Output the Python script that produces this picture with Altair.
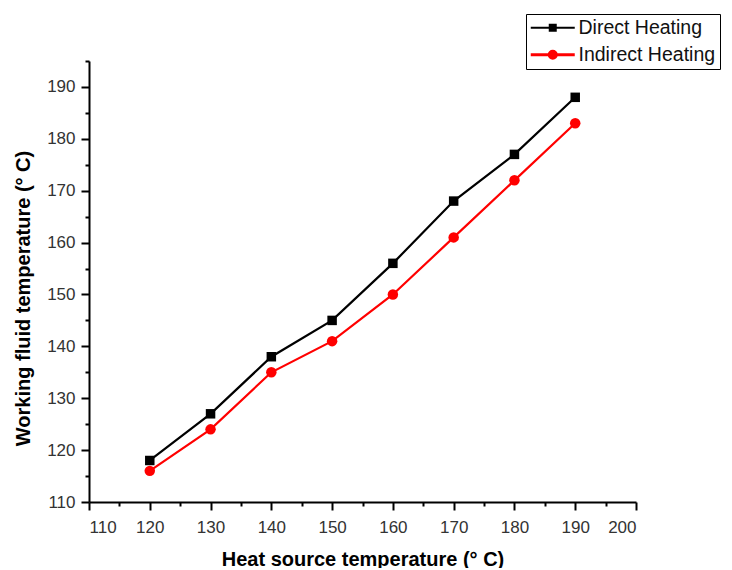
import altair as alt
import pandas as pd

heat_source = [120, 130, 140, 150, 160, 170, 180, 190]
direct = [118, 127, 138, 145, 156, 168, 177, 188]
indirect = [116, 124, 135, 141, 150, 161, 172, 183]
series_names = ["Direct Heating", "Indirect Heating"]
series_colors = ["#000000", "#ff0000"]
x_major = list(range(110, 201, 10))
x_minor = list(range(115, 200, 10))
y_major = list(range(110, 191, 10))
y_minor = list(range(115, 196, 10))

rows = []
for x, a, b in zip(heat_source, direct, indirect):
    rows.append({"x": x, "y": a, "series": series_names[0]})
    rows.append({"x": x, "y": b, "series": series_names[1]})
df = pd.DataFrame(rows)

FONT = "Liberation Sans"
SQ = "M-0.88,0H0.88M-0.12,-0.12H0.12V0.12H-0.12Z"
CI = "M-0.88,0H0.88M0.14,0A0.14,0.14,0,1,1,-0.14,0A0.14,0.14,0,1,1,0.14,0Z"
is_direct = "datum.value === 'Direct Heating'"

leg = alt.Legend(
    title=None, orient="none", legendX=437, legendY=-47,
    strokeColor="black", fillColor="white", padding=4,
    labelFont=FONT, labelFontSize=19.5, labelColor="#111111",
    symbolSize=2500, symbolOffset=13, labelOffset=16, rowPadding=6,
    symbolType={"expr": "%s ? '%s' : '%s'" % (is_direct, SQ, CI)},
    symbolFillColor={"expr": "%s ? '#000000' : '#ff0000'" % is_direct},
    symbolStrokeColor={"expr": "%s ? '#000000' : '#ff0000'" % is_direct},
    symbolStrokeWidth={"expr": "%s ? 2 : 3" % is_direct},
    symbolOpacity=1,
)

cscale = alt.Scale(domain=series_names, range=series_colors)
color = alt.Color("series:N", scale=cscale, legend=leg)
xscale = alt.Scale(domain=[110, 200], nice=False, zero=False)
yscale = alt.Scale(domain=[110, 195], nice=False, zero=False)

x_major_enc = alt.X("x:Q", scale=xscale,
                    axis=alt.Axis(values=x_major, tickSize=8, orient="bottom", labelPadding=9,
                                  title="Heat source temperature (° C)", titleY=63,
                                  titleBaseline="alphabetic"))
y_major_enc = alt.Y("y:Q", scale=yscale,
                    axis=alt.Axis(values=y_major, tickSize=8, orient="left", labelPadding=6,
                                  title="Working fluid temperature (° C)", titleX=-60, titleY=237,
                                  titleBaseline="alphabetic"))
x_minor_enc = alt.X("x:Q", scale=xscale,
                    axis=alt.Axis(values=x_minor, tickSize=4, orient="bottom", labels=False,
                                  domain=False, title=None))
y_minor_enc = alt.Y("y:Q", scale=yscale,
                    axis=alt.Axis(values=y_minor, tickSize=4, orient="left", labels=False,
                                  domain=False, title=None))

base = alt.Chart(df)
lines = base.mark_line(strokeWidth=2.2).encode(x=x_major_enc, y=y_major_enc, color=color, detail="series:N")
squares = base.transform_filter(alt.datum.series == series_names[0]).mark_point(
    filled=True, opacity=1, shape="square", size=90).encode(x=x_minor_enc, y=y_minor_enc, color=color)
circles = base.transform_filter(alt.datum.series == series_names[1]).mark_point(
    filled=True, opacity=1, shape="circle", size=110).encode(
    x=alt.X("x:Q", scale=xscale, axis=None), y=alt.Y("y:Q", scale=yscale, axis=None), color=color)

chart = alt.layer(lines, squares, circles).resolve_axis(x="independent", y="independent").properties(
    width=547, height=441,
    autosize=alt.AutoSizeParams(type="none"),
    padding={"left": 81, "top": 53, "right": 88, "bottom": 66},
).configure_view(stroke=None).configure_axis(
    grid=False, domainColor="black", domainWidth=2, tickColor="black", tickWidth=2,
    labelFont=FONT, labelFontSize=17, labelColor="#333333",
    titleFont=FONT, titleFontSize=20, titleFontWeight="bold", titleColor="black",
)

chart.save("out.html", embed_options={"renderer": "svg", "actions": False})
